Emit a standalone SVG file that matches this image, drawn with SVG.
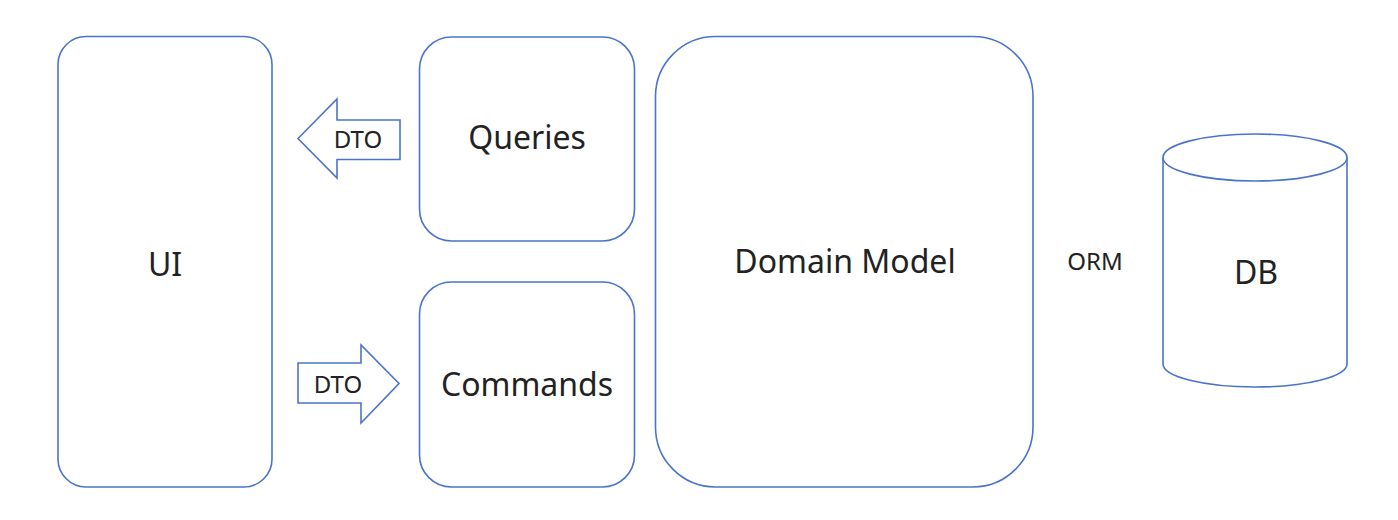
<svg xmlns="http://www.w3.org/2000/svg" width="1398" height="520" viewBox="0 0 1398 520">
<style>
.box{fill:#fff;stroke:#4A74C9;stroke-width:1.6}
.arr{fill:#fff;stroke:#4A74C9;stroke-width:1.6;stroke-linejoin:miter}
.t{font-family:"Noto Sans","Open Sans",sans-serif;fill:#222;text-anchor:middle}
.big{font-size:32px}
.sm{font-size:24px}
</style>
<rect width="1398" height="520" fill="#fff"/>
<g id="ui">
<rect class="box" x="58" y="36.5" width="214" height="450.5" rx="28" ry="28"/>
<text class="t big" x="165" y="276">UI</text>
</g>
<g id="queries">
<rect class="box" x="419.5" y="37" width="215" height="204" rx="32" ry="32"/>
<text class="t big" x="527" y="149">Queries</text>
</g>
<g id="commands">
<rect class="box" x="419.5" y="282" width="215" height="205" rx="32" ry="32"/>
<text class="t big" x="527" y="396">Commands</text>
</g>
<g id="domain">
<rect class="box" x="655.5" y="36.5" width="377.5" height="450.5" rx="60" ry="60"/>
<text class="t big" x="845" y="273">Domain Model</text>
</g>
<g id="db">
<path class="box" d="M1163,157.5 V364 A92,23 0 0 0 1347,364 V157.5"/>
<ellipse class="box" cx="1255" cy="157.5" rx="92" ry="23.5"/>
<text class="t big" x="1256" y="284">DB</text>
</g>
<g id="connectors">
<polygon class="arr" points="298,138.5 337,99 337,120 400,120 400,159.5 337,159.5 337,178"/>
<text class="t sm" x="358" y="148">DTO</text>
<polygon class="arr" points="298,363 361,363 361,345 399,383.5 361,423 361,403 298,403"/>
<text class="t sm" x="338" y="393">DTO</text>
<text class="t" style="font-size:24px" x="1095" y="270">ORM</text>
</g>
</svg>
